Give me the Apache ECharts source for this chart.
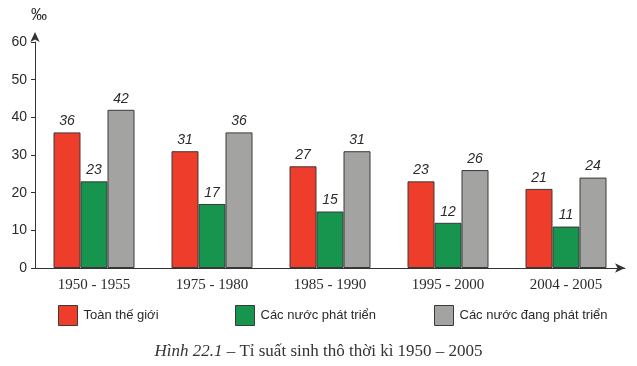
<!DOCTYPE html>
<html><head><meta charset="utf-8">
<script src="https://cdn.jsdelivr.net/npm/echarts@6/dist/echarts.min.js"></script>
<style>html,body{margin:0;padding:0;background:#fff}#c{width:637px;height:366px}</style>
</head><body><div id="c"></div>
<script>
const categories = ['1950 - 1955', '1975 - 1980', '1985 - 1990', '1995 - 2000', '2004 - 2005'];
const seriesNames = ['Toàn thế giới', 'Các nước phát triển', 'Các nước đang phát triển'];
const world = [36, 31, 27, 23, 21];
const developed = [23, 17, 15, 12, 11];
const developing = [42, 36, 31, 26, 24];
const yTicks = [0, 10, 20, 30, 40, 50, 60];

const colors = ['#ee3d2b', '#17944d', '#a3a3a1'];
const sans = '"Liberation Sans", Arial, sans-serif';
const serif = '"Liberation Serif", "Times New Roman", serif';

function mk(name, data, color) {
  return {
    name, type: 'bar', data, barWidth: 27, barGap: '0%',
    itemStyle: { color, borderColor: '#3a3a3a', borderWidth: 1 },
    label: { show: true, position: 'top', distance: 4, fontFamily: sans, fontStyle: 'italic', fontSize: 14, color: '#2a2a2a' }
  };
}
function lg(name, left) {
  return {
    data: [name], left, top: 300, itemWidth: 19, itemHeight: 20, icon: 'rect', itemGap: 0,
    textStyle: { fontFamily: sans, fontSize: 13, color: '#2a2a2a', padding: [0, 0, 0, 1] },
    itemStyle: { borderColor: '#3a3a3a', borderWidth: 1 }, selectedMode: false
  };
}
const chart = echarts.init(document.getElementById('c'));
chart.setOption({
  animation: false,
  color: colors,
  grid: { left: 35, right: 12, top: 42, bottom: 98, containLabel: false },
  title: {
    text: '{i|Hình 22.1} – Tỉ suất sinh thô thời kì 1950 – 2005',
    left: 'center', top: 338,
    textStyle: { fontFamily: serif, fontSize: 17, fontWeight: 'normal', color: '#333',
      rich: { i: { fontFamily: serif, fontSize: 17, fontStyle: 'italic', color: '#333' } } }
  },
  legend: [lg(seriesNames[0], 53), lg(seriesNames[1], 230), lg(seriesNames[2], 429)],
  xAxis: {
    type: 'category', data: categories,
    axisLine: { lineStyle: { color: '#333', width: 1 }, symbol: ['none', 'arrow'], symbolSize: [7, 10] },
    axisTick: { show: false },
    axisLabel: { fontFamily: serif, fontSize: 15, color: '#2a2a2a', margin: 10 }
  },
  yAxis: {
    type: 'value', min: 0, max: 60, interval: 10,
    name: '‰', nameLocation: 'end', nameGap: 18,
    nameTextStyle: { fontFamily: sans, fontSize: 16, color: '#2a2a2a', align: 'left', padding: [0, 0, 0, -4] },
    axisLine: { show: true, lineStyle: { color: '#333', width: 1 }, symbol: ['none', 'arrow'], symbolSize: [7, 10], symbolOffset: [0, 10] },
    axisTick: { show: true, length: 4, lineStyle: { color: '#333' } },
    splitLine: { show: false },
    axisLabel: { fontFamily: sans, fontSize: 14, color: '#2a2a2a', margin: 8,
      formatter: v => yTicks.includes(v) ? String(v) : '' }
  },
  series: [mk(seriesNames[0], world, colors[0]), mk(seriesNames[1], developed, colors[1]), mk(seriesNames[2], developing, colors[2])]
});
</script></body></html>
